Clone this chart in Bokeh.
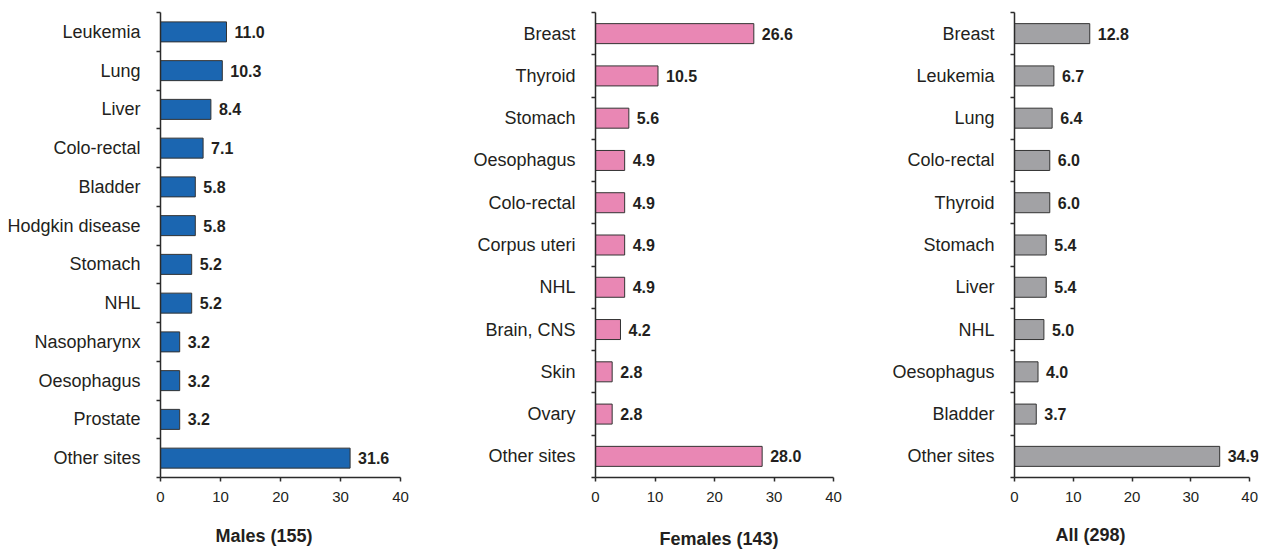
from bokeh.plotting import figure
from bokeh.models import Range1d, FixedTicker, ColumnDataSource, LabelSet, Title
from bokeh.layouts import row
from bokeh.core.properties import value
from bokeh.embed import file_html
from bokeh.resources import INLINE

# ---------------- data ----------------
males_sites = ["Leukemia", "Lung", "Liver", "Colo-rectal", "Bladder", "Hodgkin disease",
               "Stomach", "NHL", "Nasopharynx", "Oesophagus", "Prostate", "Other sites"]
males_pct = [11.0, 10.3, 8.4, 7.1, 5.8, 5.8, 5.2, 5.2, 3.2, 3.2, 3.2, 31.6]

females_sites = ["Breast", "Thyroid", "Stomach", "Oesophagus", "Colo-rectal", "Corpus uteri",
                 "NHL", "Brain, CNS", "Skin", "Ovary", "Other sites"]
females_pct = [26.6, 10.5, 5.6, 4.9, 4.9, 4.9, 4.9, 4.2, 2.8, 2.8, 28.0]

all_sites = ["Breast", "Leukemia", "Lung", "Colo-rectal", "Thyroid", "Stomach", "Liver",
             "NHL", "Oesophagus", "Bladder", "Other sites"]
all_pct = [12.8, 6.7, 6.4, 6.0, 6.0, 5.4, 5.4, 5.0, 4.0, 3.7, 34.9]

panel_titles = ["Males (155)", "Females (143)", "All (298)"]
x_ticks = [0, 10, 20, 30, 40]
x_axis_max = 40

# ---------------- styling ----------------
FONT = "Liberation Sans"
AXIS_COL = "#2b2b2b"
TXT_COL = "#231f20"
FRAME_H = 465
BAR_PX = 20
X_VIEW_MAX = 41.5   # a little room right of 40 so value labels are not clipped


def panel(sites, pct, color, title, b_left, px_per_unit, b_right, t_dx, t_standoff):
    n = len(sites)
    ypos = [n - 1 - i for i in range(n)]
    src = ColumnDataSource(dict(y=ypos, x=pct, site=sites,
                                lab=[f"{v:.1f}" for v in pct]))
    f_width = int(round(px_per_unit * X_VIEW_MAX))
    p = figure(frame_width=f_width, frame_height=FRAME_H,
               x_range=Range1d(0, X_VIEW_MAX), y_range=Range1d(-0.5, n - 0.5),
               output_backend="svg", toolbar_location=None,
               min_border_left=b_left, min_border_right=b_right,
               min_border_top=12, min_border_bottom=76)
    p.outline_line_color = None
    p.grid.visible = False
    p.background_fill_color = "white"
    p.border_fill_color = "white"

    bar_h = BAR_PX / (FRAME_H / n)
    p.hbar(y="y", left=0, right="x", height=bar_h, source=src,
           fill_color=color, line_color="#333333", line_width=1)

    p.add_layout(LabelSet(x="x", y="y", text="lab", source=src, x_offset=8,
                          text_align="left", text_baseline="middle",
                          text_font=value(FONT), text_font_style="bold",
                          text_font_size="16px", text_color=TXT_COL))

    # y axis: labels at category centres, tick marks at category boundaries
    ya = p.yaxis[0]
    ya.ticker = FixedTicker(ticks=ypos, minor_ticks=[k - 0.5 for k in range(n + 1)])
    ya.major_label_overrides = {y: s for y, s in zip(ypos, sites)}
    ya.major_tick_line_color = None
    ya.major_tick_in = 0
    ya.major_tick_out = 0
    ya.minor_tick_in = 0
    ya.minor_tick_out = 4
    ya.minor_tick_line_color = AXIS_COL
    ya.minor_tick_line_width = 1.5
    ya.axis_line_color = AXIS_COL
    ya.axis_line_width = 1.5
    ya.major_label_standoff = 16
    ya.major_label_text_font = FONT
    ya.major_label_text_font_size = "18px"
    ya.major_label_text_color = TXT_COL

    xa = p.xaxis[0]
    xa.ticker = FixedTicker(ticks=x_ticks)
    xa.bounds = (0, x_axis_max)
    xa.major_tick_in = 0
    xa.major_tick_out = 4
    xa.major_tick_line_color = AXIS_COL
    xa.major_tick_line_width = 1.5
    xa.minor_tick_line_color = None
    xa.axis_line_color = AXIS_COL
    xa.axis_line_width = 1.5
    xa.major_label_standoff = 10
    xa.major_label_text_font = FONT
    xa.major_label_text_font_size = "15px"
    xa.major_label_text_color = TXT_COL

    p.add_layout(Title(text=title, align="left", offset=t_dx, standoff=t_standoff,
                       text_font=FONT, text_font_style="bold",
                       text_font_size="18px", text_color=TXT_COL), "below")
    return p


p1 = panel(males_sites, males_pct, "#1b66b1", panel_titles[0], 160, 6.0, 11, 55, 38)
p2 = panel(females_sites, females_pct, "#e987b4", panel_titles[1], 175, 5.94, 9, 64, 44)
p3 = panel(all_sites, all_pct, "#a2a2a5", panel_titles[2], 163, 5.875, 1, 41, 36)

layout = row(p1, p2, p3, spacing=0)
open("out.html", "w").write(file_html(layout, INLINE))
